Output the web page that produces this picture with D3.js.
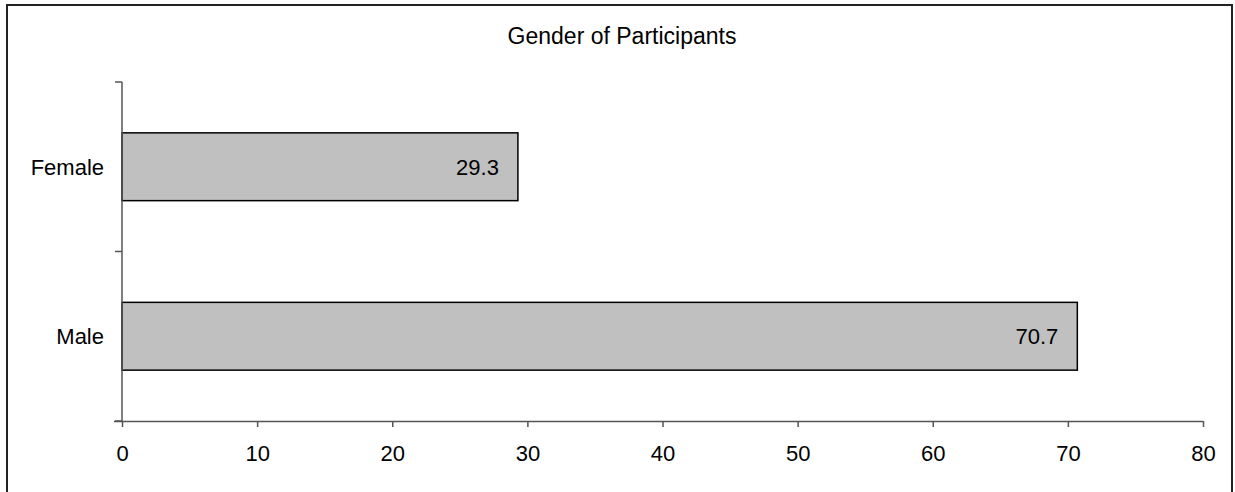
<!DOCTYPE html>
<html>
<head>
<meta charset="utf-8">
<script src="https://cdn.jsdelivr.net/npm/d3@7/dist/d3.min.js"></script>
<style>
  html, body { margin: 0; padding: 0; background: #fff; }
  svg { display: block; }
  text { font-family: "Liberation Sans", Arial, sans-serif; fill: #000; }
</style>
</head>
<body>
<svg id="chart" width="1235" height="492"></svg>
<script>
// Chart content
const title = "Gender of Participants";
const categories = ["Female", "Male"];
const values = [29.3, 70.7];
const xTicks = [0, 10, 20, 30, 40, 50, 60, 70, 80];

const svg = d3.select("#chart");
const plot = { left: 122, right: 1203, top: 82, bottom: 421 };

// Outer frame
svg.append("rect")
  .attr("x", 7).attr("y", 5)
  .attr("width", 1225).attr("height", 520)
  .attr("fill", "none").attr("stroke", "#222").attr("stroke-width", 2);

// Title
svg.append("text")
  .attr("x", 622).attr("y", 44)
  .attr("text-anchor", "middle")
  .style("font-size", "23px")
  .text(title);

const x = d3.scaleLinear().domain([0, 80]).range([plot.left, plot.right]);
const y = d3.scaleBand().domain(categories).range([plot.top, plot.bottom])
  .paddingInner(0.6).paddingOuter(0.3);

// Bars
svg.append("g").selectAll("rect")
  .data(categories)
  .join("rect")
  .attr("x", x(0))
  .attr("y", d => y(d))
  .attr("width", (d, i) => x(values[i]) - x(0))
  .attr("height", y.bandwidth())
  .attr("fill", "#C0C0C0")
  .attr("stroke", "#000")
  .attr("stroke-width", 1.5);

// Value labels inside bar ends
svg.append("g").selectAll("text")
  .data(categories)
  .join("text")
  .attr("x", (d, i) => x(values[i]) - 19)
  .attr("y", d => y(d) + y.bandwidth() / 2 + 8)
  .attr("text-anchor", "end")
  .style("font-size", "22px")
  .text((d, i) => values[i].toFixed(1));

// X axis
const xAxis = svg.append("g")
  .attr("transform", `translate(0,${plot.bottom})`)
  .call(d3.axisBottom(x).tickValues(xTicks).tickSize(6).tickPadding(18).tickSizeOuter(0));
xAxis.select(".domain").attr("d", `M${plot.left - 8},0.5H${plot.right}`);
xAxis.selectAll("line, path").attr("stroke", "#555").attr("stroke-width", 1.5);
xAxis.selectAll("text").style("font-size", "22px").style("font-family", "'Liberation Sans', Arial, sans-serif");

// Y axis with ticks at category boundaries
const yAxisG = svg.append("g").attr("transform", `translate(${plot.left},0)`);
yAxisG.append("line")
  .attr("x1", 0).attr("x2", 0).attr("y1", plot.top).attr("y2", plot.bottom)
  .attr("stroke", "#555").attr("stroke-width", 1.5);
const boundaries = [plot.top, (y(categories[0]) + y.bandwidth() + y(categories[1])) / 2, plot.bottom];
yAxisG.selectAll(".btick")
  .data(boundaries)
  .join("line")
  .attr("class", "btick")
  .attr("x1", -7).attr("x2", 0)
  .attr("y1", d => d).attr("y2", d => d)
  .attr("stroke", "#555").attr("stroke-width", 1.5);
yAxisG.selectAll(".clabel")
  .data(categories)
  .join("text")
  .attr("class", "clabel")
  .attr("x", -18)
  .attr("y", d => y(d) + y.bandwidth() / 2 + 8)
  .attr("text-anchor", "end")
  .style("font-size", "22px")
  .text(d => d);
</script>
</body>
</html>
